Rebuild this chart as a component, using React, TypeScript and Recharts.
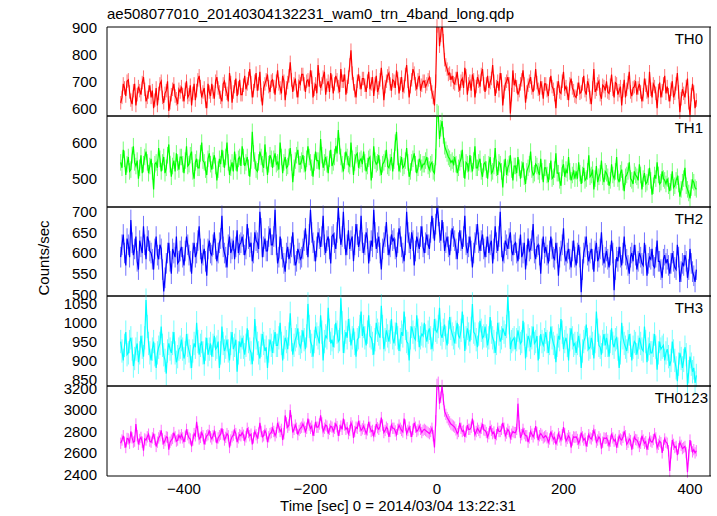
import { LineChart, Line, XAxis, YAxis, ErrorBar } from "recharts";

// light curve bins, 2 s wide, first bin at t = -500 s
const T_START = -500;
const BIN = 2;

const th0 = [
  620, 640, 690, 675, 645, 700, 705, 660, 630, 615, 665, 690, 610, 650, 680, 665, 650, 695, 715, 670, 625, 640, 660, 685,
  640, 665, 600, 630, 675, 610, 655, 690, 700, 640, 620, 655, 665, 700, 590, 620, 650, 670, 690, 645, 635, 615, 670, 660,
  680, 650, 625, 670, 700, 640, 650, 685, 610, 655, 690, 630, 665, 705, 720, 680, 640, 660, 675, 625, 600, 690, 660, 645,
  690, 660, 635, 700, 715, 675, 660, 640, 625, 690, 700, 670, 655, 625, 730, 695, 620, 660, 680, 710, 645, 675, 705, 650,
  650, 685, 720, 670, 690, 710, 745, 695, 640, 665, 700, 730, 665, 690, 735, 650, 610, 675, 690, 705, 725, 680, 660, 700,
  705, 680, 650, 700, 740, 690, 675, 655, 720, 700, 630, 675, 695, 720, 770, 705, 660, 690, 710, 665, 640, 700, 690, 725,
  725, 690, 660, 700, 705, 680, 740, 715, 640, 670, 690, 655, 760, 705, 675, 690, 715, 735, 650, 685, 700, 660, 730, 700,
  655, 690, 720, 705, 680, 660, 745, 700, 700, 725, 650, 680, 715, 760, 815, 730, 690, 665, 640, 700, 725, 695, 670, 710,
  710, 685, 660, 700, 735, 670, 690, 715, 645, 690, 720, 660, 675, 705, 750, 695, 630, 680, 700, 720, 730, 690, 665, 705,
  700, 675, 740, 710, 655, 690, 715, 660, 680, 725, 760, 700, 640, 680, 705, 745, 730, 690, 670, 705, 720, 665, 685, 700,
  700, 680, 690, 705, 715, 690, 660, 640, 610, 700, 905, 960, 830, 870, 925, 850, 780, 760, 745, 725, 730, 705, 720, 695,
  690, 710, 735, 685, 665, 700, 710, 675, 750, 720, 650, 690, 700, 665, 725, 705, 640, 680, 715, 700, 680, 725, 745, 690,
  660, 690, 720, 675, 695, 710, 760, 700, 645, 680, 700, 665, 730, 705, 610, 660, 690, 700, 715, 690, 580, 650, 740, 685,
  705, 680, 650, 665, 690, 705, 740, 690, 620, 660, 685, 700, 715, 675, 660, 690, 745, 695, 670, 650, 700, 675, 635, 690,
  690, 665, 645, 690, 720, 680, 670, 650, 600, 675, 700, 660, 655, 700, 735, 670, 680, 655, 630, 690, 710, 675, 665, 645,
  640, 670, 695, 655, 660, 690, 720, 665, 650, 700, 685, 640, 615, 675, 745, 660, 670, 690, 700, 650, 635, 685, 680, 665,
  700, 660, 655, 685, 725, 670, 640, 695, 690, 650, 665, 680, 610, 665, 705, 640, 670, 695, 735, 660, 645, 675, 680, 700,
  650, 675, 690, 660, 625, 650, 710, 685, 660, 640, 735, 670, 640, 690, 680, 655, 600, 665, 695, 640, 665, 690, 720, 655,
  680, 650, 625, 670, 700, 640, 655, 690, 730, 660, 585, 635, 670, 655, 640, 680, 710, 620, 575, 650, 690, 660, 600, 630,
];

const th1 = [
  545, 530, 580, 555, 510, 540, 560, 520, 525, 565, 590, 545, 535, 550, 500, 530, 565, 515, 540, 560, 575, 545, 515, 535,
  555, 520, 470, 540, 545, 530, 585, 555, 520, 545, 560, 515, 530, 565, 595, 540, 505, 535, 550, 520, 570, 545, 525, 560,
  560, 540, 515, 550, 590, 535, 540, 565, 575, 520, 500, 545, 555, 530, 530, 570, 600, 550, 545, 525, 510, 555, 570, 540,
  525, 550, 565, 535, 495, 525, 555, 540, 580, 555, 530, 560, 600, 545, 510, 530, 545, 520, 575, 545, 520, 555, 560, 535,
  590, 560, 535, 545, 560, 530, 505, 550, 630, 570, 550, 525, 520, 545, 575, 560, 540, 530, 595, 550, 510, 540, 565, 555,
  530, 555, 570, 540, 545, 525, 600, 560, 515, 545, 560, 530, 535, 560, 585, 545, 490, 530, 550, 565, 580, 540, 540, 550,
  565, 540, 520, 555, 590, 560, 545, 530, 505, 545, 575, 550, 550, 525, 610, 565, 530, 545, 560, 540, 515, 555, 580, 535,
  545, 560, 590, 570, 635, 590, 560, 540, 520, 550, 575, 560, 540, 535, 600, 555, 510, 545, 565, 570, 530, 550, 555, 540,
  575, 545, 520, 535, 555, 560, 495, 525, 590, 550, 540, 545, 565, 530, 510, 540, 545, 555, 580, 535, 530, 545, 560, 520,
  550, 600, 630, 560, 520, 540, 560, 530, 535, 550, 585, 545, 505, 520, 545, 555, 570, 540, 515, 530, 555, 545, 530, 540,
  540, 550, 560, 535, 525, 540, 545, 520, 515, 560, 690, 680, 610, 640, 660, 620, 590, 580, 570, 560, 555, 545, 550, 540,
  560, 540, 515, 530, 545, 555, 580, 525, 500, 545, 540, 520, 565, 540, 520, 550, 590, 530, 530, 545, 555, 520, 505, 540,
  545, 525, 500, 540, 560, 515, 520, 535, 585, 530, 510, 545, 540, 520, 475, 530, 555, 510, 530, 540, 565, 525, 495, 535,
  535, 515, 560, 530, 500, 525, 545, 505, 485, 520, 530, 540, 575, 525, 510, 515, 540, 535, 520, 510, 555, 520, 490, 530,
  530, 510, 490, 520, 550, 500, 505, 525, 570, 515, 515, 495, 480, 530, 540, 505, 525, 515, 560, 520, 495, 510, 520, 500,
  520, 500, 545, 515, 485, 510, 530, 495, 500, 520, 565, 505, 510, 525, 470, 500, 535, 490, 505, 515, 550, 505, 490, 520,
  515, 505, 480, 495, 540, 510, 500, 520, 560, 500, 490, 515, 525, 490, 465, 505, 510, 520, 545, 500, 495, 485, 520, 510,
  505, 495, 540, 510, 470, 500, 515, 485, 490, 505, 530, 495, 455, 480, 510, 500, 545, 510, 485, 490, 520, 500, 495, 485,
  500, 480, 465, 490, 520, 475, 480, 495, 505, 485, 450, 470, 490, 500, 530, 480, 470, 460, 445, 475, 495, 490, 475, 470,
];

const th2 = [
  590, 620, 645, 600, 570, 635, 620, 590, 680, 625, 595, 610, 640, 580, 560, 630, 615, 600, 665, 620, 585, 640, 630, 605,
  600, 585, 560, 610, 640, 595, 585, 620, 610, 560, 507, 540, 575, 600, 625, 580, 550, 610, 600, 590, 640, 575, 580, 605,
  615, 590, 570, 605, 640, 620, 595, 580, 550, 600, 625, 590, 600, 630, 665, 610, 575, 595, 610, 580, 545, 610, 630, 600,
  595, 620, 650, 610, 580, 600, 625, 635, 690, 615, 600, 590, 565, 620, 640, 600, 610, 630, 585, 615, 655, 600, 620, 625,
  640, 620, 595, 610, 670, 635, 615, 625, 580, 600, 650, 630, 625, 610, 700, 660, 590, 615, 635, 605, 605, 640, 660, 620,
  620, 640, 705, 620, 575, 590, 640, 610, 590, 575, 555, 600, 615, 585, 600, 615, 650, 595, 570, 580, 610, 600, 585, 590,
  610, 630, 660, 620, 590, 645, 705, 650, 625, 605, 580, 615, 650, 635, 615, 640, 690, 620, 600, 630, 640, 610, 575, 640,
  645, 625, 610, 650, 710, 660, 620, 640, 700, 635, 595, 620, 655, 610, 630, 640, 580, 620, 670, 645, 615, 630, 690, 625,
  600, 620, 650, 635, 575, 605, 630, 615, 705, 650, 610, 625, 640, 600, 560, 610, 625, 640, 675, 620, 595, 615, 645, 630,
  635, 610, 590, 625, 660, 640, 615, 600, 580, 620, 700, 650, 625, 610, 650, 630, 570, 605, 640, 625, 610, 640, 665, 615,
  600, 625, 645, 620, 610, 650, 690, 660, 630, 670, 710, 690, 650, 630, 680, 650, 605, 625, 640, 615, 595, 630, 660, 640,
  630, 610, 585, 625, 655, 630, 610, 640, 690, 620, 600, 615, 640, 605, 565, 600, 625, 645, 670, 625, 605, 630, 645, 610,
  590, 615, 640, 600, 620, 630, 575, 610, 665, 625, 605, 640, 700, 615, 580, 600, 630, 620, 610, 635, 650, 605, 595, 620,
  625, 600, 580, 610, 645, 590, 600, 625, 560, 595, 635, 605, 610, 630, 670, 600, 585, 615, 620, 595, 550, 610, 640, 600,
  615, 595, 575, 605, 640, 610, 590, 585, 625, 600, 545, 590, 605, 620, 660, 595, 580, 600, 610, 585, 565, 605, 630, 590,
  570, 600, 620, 590, 505, 560, 600, 615, 640, 595, 580, 600, 610, 585, 555, 605, 625, 580, 590, 610, 650, 595, 575, 590,
  605, 585, 565, 595, 630, 600, 510, 560, 590, 580, 615, 590, 570, 600, 640, 595, 585, 570, 550, 590, 600, 580, 620, 595,
  560, 580, 600, 590, 575, 570, 625, 595, 545, 575, 590, 585, 610, 570, 565, 590, 630, 580, 580, 560, 540, 585, 595, 575,
  585, 570, 550, 575, 600, 580, 565, 560, 620, 590, 530, 555, 575, 570, 595, 580, 540, 560, 610, 575, 555, 545, 530, 560,
];

const th3 = [
  950, 925, 900, 940, 975, 915, 920, 950, 960, 930, 885, 905, 930, 945, 895, 920, 965, 935, 910, 960, 1060, 990, 945, 920,
  900, 930, 950, 915, 880, 920, 935, 945, 990, 940, 915, 900, 865, 925, 945, 930, 920, 945, 975, 920, 895, 910, 930, 935,
  955, 930, 905, 920, 970, 940, 925, 910, 880, 925, 945, 935, 1000, 950, 915, 940, 950, 920, 890, 930, 960, 915, 930, 945,
  910, 940, 965, 930, 935, 950, 880, 920, 990, 945, 925, 935, 955, 925, 900, 945, 975, 930, 940, 955, 870, 920, 950, 935,
  960, 935, 915, 940, 985, 950, 930, 920, 890, 930, 1010, 960, 945, 920, 905, 940, 970, 945, 925, 935, 880, 925, 955, 940,
  920, 950, 975, 940, 940, 960, 1000, 945, 900, 935, 960, 950, 930, 970, 1025, 955, 915, 940, 955, 965, 985, 945, 935, 950,
  980, 955, 930, 965, 1050, 990, 950, 940, 910, 950, 990, 970, 960, 945, 1020, 975, 900, 950, 965, 960, 1040, 980, 945, 955,
  935, 965, 1000, 975, 950, 955, 1065, 1000, 920, 950, 975, 960, 1010, 980, 940, 960, 985, 945, 910, 955, 960, 990, 1030, 965,
  990, 960, 940, 975, 1020, 965, 960, 945, 915, 955, 1000, 980, 970, 960, 1045, 990, 930, 955, 980, 965, 950, 975, 1010, 960,
  945, 970, 1000, 960, 925, 955, 975, 965, 1030, 985, 950, 945, 900, 960, 990, 975, 960, 955, 1020, 980, 935, 960, 970, 965,
  1000, 965, 950, 975, 985, 960, 930, 955, 1010, 980, 975, 990, 1040, 970, 960, 980, 995, 960, 940, 975, 1015, 985, 970, 960,
  945, 975, 1000, 965, 960, 980, 1030, 990, 925, 960, 985, 970, 950, 985, 1050, 975, 970, 955, 935, 970, 1005, 980, 960, 965,
  990, 965, 940, 960, 1015, 975, 960, 950, 920, 945, 1000, 970, 950, 960, 985, 975, 965, 990, 1070, 1000, 930, 950, 955, 960,
  930, 955, 980, 960, 945, 950, 1005, 970, 905, 940, 965, 955, 935, 960, 990, 945, 950, 965, 900, 935, 970, 950, 940, 955,
  975, 950, 920, 945, 990, 960, 945, 935, 895, 940, 965, 955, 1010, 975, 930, 950, 960, 940, 900, 955, 985, 960, 940, 945,
  920, 945, 965, 940, 880, 925, 950, 960, 995, 955, 930, 935, 960, 945, 905, 950, 1030, 980, 940, 935, 915, 950, 970, 940,
  960, 940, 910, 950, 985, 945, 935, 955, 960, 930, 880, 920, 1000, 960, 945, 935, 925, 950, 970, 940, 900, 935, 950, 945,
  915, 935, 960, 945, 930, 925, 990, 950, 895, 930, 945, 920, 920, 940, 970, 935, 875, 920, 950, 930, 935, 940, 900, 920,
  930, 910, 885, 900, 950, 925, 900, 880, 845, 890, 920, 905, 880, 900, 935, 915, 835, 870, 910, 890, 870, 880, 840, 860,
];

const th0123 = [
  2690, 2720, 2760, 2700, 2650, 2735, 2730, 2690, 2800, 2740, 2700, 2710, 2870, 2760, 2680, 2725, 2745, 2700, 2620, 2730, 2720, 2750, 2775, 2710,
  2700, 2740, 2780, 2725, 2660, 2700, 2740, 2760, 2810, 2730, 2690, 2715, 2750, 2745, 2630, 2700, 2720, 2735, 2790, 2750, 2710, 2720, 2765, 2740,
  2770, 2740, 2700, 2755, 2820, 2770, 2740, 2730, 2660, 2720, 2780, 2760, 2890, 2800, 2730, 2745, 2790, 2760, 2680, 2730, 2760, 2770, 2810, 2750,
  2730, 2760, 2800, 2750, 2690, 2740, 2760, 2775, 2830, 2770, 2720, 2745, 2780, 2760, 2650, 2720, 2750, 2765, 2810, 2780, 2700, 2740, 2770, 2760,
  2790, 2765, 2720, 2750, 2830, 2790, 2760, 2775, 2680, 2740, 2800, 2770, 2740, 2785, 2880, 2800, 2750, 2760, 2810, 2780, 2700, 2750, 2780, 2790,
  2830, 2800, 2760, 2790, 2880, 2840, 2800, 2820, 2720, 2780, 2950, 2880, 2840, 2860, 3000, 2900, 2790, 2820, 2860, 2830, 2770, 2810, 2830, 2840,
  2870, 2840, 2800, 2830, 2920, 2860, 2830, 2850, 2760, 2810, 2890, 2840, 2840, 2870, 2950, 2880, 2800, 2830, 2860, 2850, 2780, 2820, 2850, 2840,
  2800, 2830, 2870, 2845, 2760, 2810, 2850, 2820, 2920, 2860, 2820, 2835, 2780, 2810, 2880, 2850, 2740, 2800, 2840, 2830, 2900, 2850, 2810, 2825,
  2850, 2820, 2780, 2815, 2890, 2840, 2800, 2810, 2760, 2800, 2870, 2835, 2820, 2850, 2930, 2860, 2790, 2810, 2840, 2825, 2750, 2800, 2860, 2830,
  2830, 2805, 2770, 2820, 2860, 2830, 2810, 2795, 2920, 2860, 2780, 2810, 2840, 2800, 2750, 2820, 2880, 2840, 2800, 2815, 2850, 2820, 2790, 2810,
  2820, 2810, 2800, 2790, 2780, 2800, 2830, 2760, 2650, 2900, 3240, 3260, 3060, 3120, 3230, 3100, 2990, 2960, 2930, 2910, 2890, 2870, 2860, 2850,
  2840, 2815, 2780, 2800, 2880, 2830, 2800, 2810, 2750, 2795, 2860, 2820, 2820, 2840, 2920, 2850, 2770, 2800, 2830, 2810, 2790, 2830, 2870, 2815,
  2810, 2790, 2750, 2780, 2850, 2810, 2780, 2795, 2730, 2770, 2830, 2800, 2800, 2820, 2880, 2830, 2760, 2785, 2820, 2800, 2740, 2775, 2800, 2790,
  2790, 2820, 3060, 2850, 2740, 2770, 2820, 2780, 2760, 2760, 2700, 2740, 2800, 2775, 2750, 2780, 2850, 2790, 2720, 2760, 2780, 2765, 2740, 2750,
  2760, 2740, 2700, 2730, 2800, 2760, 2730, 2745, 2680, 2720, 2780, 2750, 2720, 2770, 2840, 2780, 2710, 2735, 2760, 2740, 2650, 2720, 2750, 2745,
  2750, 2725, 2690, 2720, 2790, 2750, 2720, 2735, 2660, 2710, 2770, 2740, 2730, 2760, 2810, 2770, 2700, 2720, 2750, 2730, 2640, 2700, 2740, 2735,
  2740, 2715, 2670, 2710, 2780, 2740, 2710, 2725, 2650, 2700, 2760, 2730, 2720, 2745, 2800, 2760, 2680, 2700, 2730, 2715, 2630, 2690, 2750, 2725,
  2720, 2695, 2660, 2690, 2760, 2720, 2690, 2705, 2630, 2680, 2740, 2710, 2700, 2725, 2780, 2740, 2650, 2680, 2710, 2695, 2600, 2670, 2730, 2700,
  2690, 2620, 2430, 2600, 2720, 2680, 2650, 2660, 2580, 2640, 2700, 2670, 2640, 2650, 2660, 2600, 2420, 2580, 2720, 2660, 2610, 2630, 2600, 2620,
];

// typical 1-sigma error of one bin, per band
const errTh0 = 25;
const errTh1 = 23;
const errTh2 = 25;
const errTh3 = 31;
const errTh0123 = 53;

const xTicks = [-500, -400, -300, -200, -100, 0, 100, 200, 300, 400];
const xLabels = [-400, -200, 0, 200, 400];
const X_DOMAIN: [number, number] = [-521.7, 433.2];

const FONT = '"Liberation Sans", Arial, Helvetica, sans-serif';
const PAD = 12;

function steps(from: number, to: number, step: number) {
  const out: number[] = [];
  for (let v = from; v <= to + 1e-6; v += step) out.push(v);
  return out;
}

const panels = [
  { name: "TH0", values: th0, err: errTh0, color: "#ff0000", light: "#ff7373",
    domain: [571, 901], major: [600, 700, 800, 900], minor: steps(580, 900, 20),
    top: 27, bottom: 116, nameX: 703 },
  { name: "TH1", values: th1, err: errTh1, color: "#00ff00", light: "#73ff73",
    domain: [421, 674], major: [500, 600], minor: steps(440, 660, 20),
    top: 116, bottom: 207, nameX: 703 },
  { name: "TH2", values: th2, err: errTh2, color: "#0000ff", light: "#7373ff",
    domain: [496, 711.5], major: [500, 550, 600, 650, 700], minor: steps(500, 710, 10),
    top: 207, bottom: 296, nameX: 703 },
  { name: "TH3", values: th3, err: errTh3, color: "#00ffff", light: "#73ffff",
    domain: [832, 1071], major: [850, 900, 950, 1000, 1050], minor: steps(840, 1070, 10),
    top: 296, bottom: 386, nameX: 703 },
  { name: "TH0123", values: th0123, err: errTh0123, color: "#ff00ff", light: "#ff73ff",
    domain: [2384, 3225], major: [2400, 2600, 2800, 3000, 3200], minor: steps(2400, 3200, 100),
    top: 386, bottom: 476, nameX: 708 },
];

const minus = (v: number) => String(v).replace("-", "\u2212");

function Panel({ p, last }: { p: (typeof panels)[number]; last: boolean }) {
  const data = p.values.map((v, i) => ({ t: T_START + i * BIN, v, e: p.err }));
  const h = p.bottom - p.top;
  const tickStyle = { fontSize: 15, fill: "#000", fontFamily: FONT };
  const frame = { stroke: "#000", strokeWidth: 1 };
  return (
    <div style={{ position: "absolute", left: 0, top: p.top - PAD }}>
      <LineChart
        width={717}
        height={h + PAD + (last ? 40 : PAD)}
        data={data}
        margin={{ top: PAD, right: 6, bottom: last ? 10 : PAD, left: 0 }}
      >
        <XAxis xAxisId="b" dataKey="t" type="number" domain={X_DOMAIN} allowDataOverflow
          ticks={xTicks} interval={0} orientation="bottom" mirror tick={false}
          tickSize={6} stroke="#000" axisLine={frame} />
        <XAxis xAxisId="t" dataKey="t" type="number" domain={X_DOMAIN} allowDataOverflow
          ticks={xTicks} interval={0} orientation="top" mirror tick={false}
          tickSize={6} stroke="#000" axisLine={frame} />
        {last && (
          <XAxis xAxisId="lbl" dataKey="t" type="number" domain={X_DOMAIN} allowDataOverflow
            ticks={xLabels} interval={0} orientation="bottom" height={30}
            tickLine={false} axisLine={false} tickSize={0} tickMargin={7}
            tick={tickStyle} tickFormatter={minus} />
        )}
        <YAxis yAxisId="main" type="number" domain={p.domain} allowDataOverflow
          ticks={p.major} interval={0} orientation="left" mirror tick={false}
          tickSize={6} stroke="#000" axisLine={frame} />
        <YAxis yAxisId="minL" type="number" domain={p.domain} allowDataOverflow
          ticks={p.minor} interval={0} orientation="left" mirror tick={false}
          tickSize={3} stroke="#000" axisLine={false} />
        <YAxis yAxisId="r" type="number" domain={p.domain} allowDataOverflow
          ticks={p.major} interval={0} orientation="right" mirror width={1} tick={false}
          tickSize={6} stroke="#000" axisLine={frame} />
        <YAxis yAxisId="minR" type="number" domain={p.domain} allowDataOverflow
          ticks={p.minor} interval={0} orientation="right" mirror width={1} tick={false}
          tickSize={3} stroke="#000" axisLine={false} />
        <YAxis yAxisId="lbl" type="number" domain={p.domain} allowDataOverflow
          ticks={p.major} interval={0} orientation="left" width={107}
          tickLine={false} axisLine={false} tickSize={0} tickMargin={10} tick={tickStyle} />
        <Line xAxisId="b" yAxisId="main" dataKey="v" stroke="none" dot={false}
          activeDot={false} isAnimationActive={false}>
          <ErrorBar dataKey="e" direction="y" width={0} stroke={p.light} strokeWidth={1}
            isAnimationActive={false} />
        </Line>
        <Line xAxisId="b" yAxisId="main" dataKey="v" stroke={p.color} strokeWidth={1.2}
          dot={false} activeDot={false} isAnimationActive={false} />
      </LineChart>
    </div>
  );
}

export default function App() {
  return (
    <div style={{ position: "absolute", left: 0, top: 0, width: 717, height: 516, background: "#fff" }}>
      {panels.map((p, i) => (
        <Panel key={p.name} p={p} last={i === panels.length - 1} />
      ))}
      <svg width={717} height={516} style={{ position: "absolute", left: 0, top: 0, pointerEvents: "none" }}
        fontFamily={FONT} fontSize={15} fill="#000">
        <text x={107} y={19}>ae508077010_20140304132231_wam0_trn_4band_long.qdp</text>
        <text x={398} y={511} textAnchor="middle">Time [sec] 0 = 2014/03/04 13:22:31</text>
        <text transform="translate(49 258) rotate(-90)" textAnchor="middle">Counts/sec</text>
        {panels.map((p) => (
          <text key={p.name} x={p.nameX} y={p.top + 17} textAnchor="end">{p.name}</text>
        ))}
      </svg>
    </div>
  );
}
